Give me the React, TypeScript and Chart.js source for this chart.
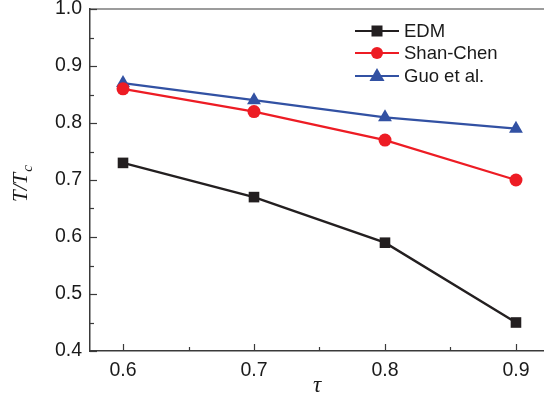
import React, { useEffect, useRef } from "react";
import { Chart, registerables } from "chart.js";

Chart.register(...registerables);

const tau = [0.6, 0.7, 0.8, 0.9];
const edm = [0.73, 0.67, 0.59, 0.45];
const shanChen = [0.86, 0.82, 0.77, 0.7];
const guo = [0.87, 0.84, 0.81, 0.79];
const seriesNames = ["EDM", "Shan-Chen", "Guo et al."];
const xTicks = [0.6, 0.65, 0.7, 0.75, 0.8, 0.85, 0.9];
const yTicks = [0.4, 0.45, 0.5, 0.55, 0.6, 0.65, 0.7, 0.75, 0.8, 0.85, 0.9, 0.95, 1.0];

const BLACK = "#231f20";
const RED = "#ed1c24";
const BLUE = "#3251a3";
const AXIS = "#3a3a3a";
const FONT = "'Liberation Sans', Arial, sans-serif";
const SERIF = "'Liberation Serif', 'Times New Roman', serif";

const isMajor = (v: number) => Math.abs(v * 10 - Math.round(v * 10)) < 1e-6;

const framePlugin = {
  id: "frame",
  afterDraw(chart: any) {
    const { ctx, chartArea } = chart;
    const xs = chart.scales.x;
    const ys = chart.scales.y;
    ctx.save();
    ctx.strokeStyle = AXIS;
    ctx.lineWidth = 1.2;
    ctx.beginPath();
    ctx.moveTo(chartArea.left, chartArea.top);
    ctx.lineTo(chartArea.right, chartArea.top);
    ctx.stroke();
    xTicks.forEach((v) => {
      const px = Math.round(xs.getPixelForValue(v)) + 0.5;
      const len = isMajor(v) ? 7 : 4;
      ctx.beginPath();
      ctx.moveTo(px, chartArea.bottom);
      ctx.lineTo(px, chartArea.bottom - len);
      ctx.stroke();
    });
    yTicks.forEach((v) => {
      const py = Math.round(ys.getPixelForValue(v)) + 0.5;
      const len = isMajor(v) ? 7 : 4;
      ctx.beginPath();
      ctx.moveTo(chartArea.left, py);
      ctx.lineTo(chartArea.left + len, py);
      ctx.stroke();
    });
    ctx.fillStyle = "#1a1a1a";
    ctx.font = `italic 23px ${SERIF}`;
    ctx.textAlign = "center";
    ctx.textBaseline = "middle";
    ctx.fillText("\u03c4", (chartArea.left + chartArea.right) / 2, 386);
    ctx.save();
    ctx.translate(27, 184);
    ctx.rotate(-Math.PI / 2);
    ctx.textAlign = "left";
    ctx.textBaseline = "alphabetic";
    const main = "T/T";
    ctx.font = `italic 21px ${SERIF}`;
    const w = ctx.measureText(main).width;
    ctx.font = `italic 15px ${SERIF}`;
    const ws = ctx.measureText("c").width;
    const start = -(w + ws) / 2;
    ctx.font = `italic 21px ${SERIF}`;
    ctx.fillText(main, start, 0);
    ctx.font = `italic 15px ${SERIF}`;
    ctx.fillText("c", start + w + 1, 5);
    ctx.restore();

    const colors = [BLACK, RED, BLUE];
    const styles = ["rect", "circle", "triangle"];
    const rowY = [31, 53, 76];
    ctx.font = `18.5px ${FONT}`;
    ctx.textAlign = "left";
    ctx.textBaseline = "middle";
    seriesNames.forEach((name, i) => {
      const y = rowY[i];
      ctx.strokeStyle = colors[i];
      ctx.lineWidth = 2;
      ctx.beginPath();
      ctx.moveTo(355, y);
      ctx.lineTo(399, y);
      ctx.stroke();
      ctx.fillStyle = colors[i];
      const cx = 377;
      if (styles[i] === "rect") {
        ctx.fillRect(cx - 5.5, y - 5.5, 11, 11);
      } else if (styles[i] === "circle") {
        ctx.beginPath();
        ctx.arc(cx, y, 6, 0, Math.PI * 2);
        ctx.fill();
      } else {
        ctx.beginPath();
        ctx.moveTo(cx, y - 8);
        ctx.lineTo(cx + 7.5, y + 5);
        ctx.lineTo(cx - 7.5, y + 5);
        ctx.closePath();
        ctx.fill();
      }
      ctx.fillStyle = "#1a1a1a";
      ctx.fillText(name, 404, y + 1);
    });
    ctx.restore();
  },
};

export default function App() {
  const ref = useRef<HTMLCanvasElement | null>(null);
  useEffect(() => {
    if (!ref.current) return;
    const mk = (vals: number[]) => tau.map((t, i) => ({ x: t, y: vals[i] }));
    const chart = new Chart(ref.current, {
      type: "line",
      data: {
        datasets: [
          {
            label: seriesNames[0],
            data: mk(edm),
            borderColor: BLACK,
            backgroundColor: BLACK,
            borderWidth: 2.4,
            pointStyle: "rect",
            pointRadius: 7.5,
            pointBorderWidth: 0,
          },
          {
            label: seriesNames[1],
            data: mk(shanChen),
            borderColor: RED,
            backgroundColor: RED,
            borderWidth: 2.2,
            pointStyle: "circle",
            pointRadius: 6.5,
            pointBorderWidth: 0,
          },
          {
            label: seriesNames[2],
            data: mk(guo),
            borderColor: BLUE,
            backgroundColor: BLUE,
            borderWidth: 2.2,
            pointStyle: "triangle",
            pointRadius: 8,
            pointBorderWidth: 0,
          },
        ],
      },
      options: {
        responsive: false,
        animation: false,
        layout: { autoPadding: false, padding: { top: 9, right: 0, left: 0, bottom: 0 } },
        plugins: { legend: { display: false }, tooltip: { enabled: false } },
        scales: {
          x: {
            type: "linear",
            min: 0.5748,
            max: 0.9214,
            afterBuildTicks: (s: any) => {
              s.ticks = xTicks.map((v) => ({ value: v }));
            },
            afterFit: (s: any) => {
              s.height = 54;
              s.paddingLeft = 0;
              s.paddingRight = 0;
            },
            grid: { display: false, drawTicks: false },
            border: { display: true, color: AXIS, width: 1.5 },
            ticks: {
              autoSkip: false,
              maxRotation: 0,
              padding: 8,
              color: "#1a1a1a",
              font: { family: FONT, size: 19.5 },
              callback: (v: any) => (isMajor(Number(v)) ? Number(v).toFixed(1) : ""),
            },
          },
          y: {
            type: "linear",
            min: 0.4,
            max: 1.0,
            afterBuildTicks: (s: any) => {
              s.ticks = yTicks.map((v) => ({ value: v }));
            },
            afterFit: (s: any) => {
              s.width = 90;
              s.paddingTop = 0;
              s.paddingBottom = 0;
            },
            grid: { display: false, drawTicks: false },
            border: { display: true, color: AXIS, width: 1.5 },
            ticks: {
              autoSkip: false,
              padding: 8,
              color: "#1a1a1a",
              font: { family: FONT, size: 19.5 },
              callback: (v: any) => (isMajor(Number(v)) ? Number(v).toFixed(1) : ""),
            },
          },
        },
      },
      plugins: [framePlugin],
    });
    return () => chart.destroy();
  }, []);
  return (
    <div style={{ position: "fixed", left: 0, top: 0, width: 544, height: 405, background: "#fff" }}>
      <canvas ref={ref} width={544} height={405} />
    </div>
  );
}
